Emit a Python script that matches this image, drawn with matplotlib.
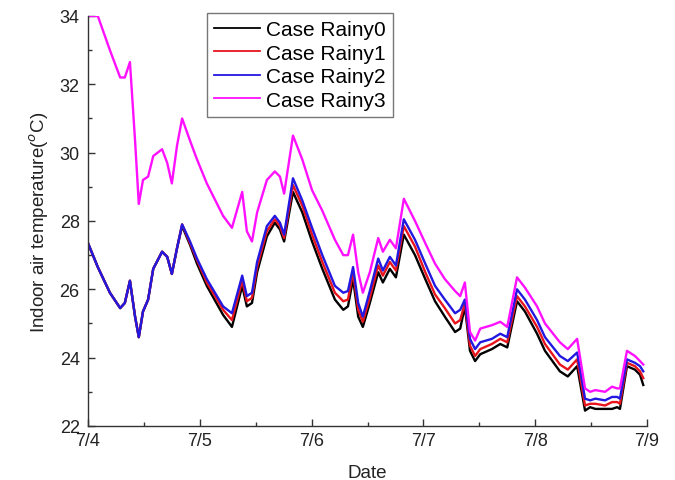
import matplotlib
matplotlib.use("Agg")
import matplotlib.pyplot as plt
from matplotlib.ticker import MultipleLocator

plt.rcParams['font.family'] = ['Liberation Sans', 'DejaVu Sans']

# hours since 7/4 00:00
hours = [0.0, 2.1, 4.7, 6.9, 7.9, 9.0, 10.1, 10.9, 11.8, 12.9, 14.0, 15.9, 17.0, 18.0,
         19.1, 20.2, 21.9, 23.4, 25.5, 29.0, 30.9, 33.1, 34.1, 35.2, 36.3, 38.4, 40.1,
         41.2, 42.1, 44.0, 46.0, 48.1, 50.3, 53.0, 54.8, 55.8, 56.9, 58.0, 59.0, 60.5,
         62.3, 63.3, 64.8, 66.1, 67.8, 70.2, 72.4, 74.5, 76.6, 78.8, 79.9, 80.9, 82.0,
         83.1, 84.2, 86.7, 88.5, 90.0, 92.1, 93.8, 96.4, 98.1, 101.3, 103.0, 105.0,
         106.7, 107.8, 108.9, 111.0, 112.5, 113.6, 114.2, 115.7, 117.4, 118.5, 119.2]

rainy0 = [27.35, 26.65, 25.9, 25.45, 25.6, 26.25, 25.2, 24.6, 25.35, 25.7, 26.6, 27.1,
          26.95, 26.45, 27.2, 27.85, 27.3, 26.75, 26.1, 25.25, 24.9, 26.1, 25.5, 25.6,
          26.5, 27.55, 27.95, 27.75, 27.4, 28.85, 28.25, 27.4, 26.6, 25.7, 25.4, 25.5,
          26.3, 25.2, 24.9, 25.6, 26.5, 26.2, 26.6, 26.35, 27.6, 27.0, 26.3, 25.65, 25.2,
          24.75, 24.85, 25.5, 24.2, 23.9, 24.1, 24.25, 24.4, 24.3, 25.65, 25.35, 24.7,
          24.2, 23.6, 23.45, 23.75, 22.45, 22.55, 22.5, 22.5, 22.5, 22.55, 22.5, 23.75,
          23.65, 23.5, 23.2]

rainy1 = [27.35, 26.65, 25.9, 25.45, 25.6, 26.25, 25.2, 24.6, 25.35, 25.7, 26.6, 27.1,
          26.95, 26.45, 27.2, 27.9, 27.35, 26.85, 26.2, 25.4, 25.1, 26.25, 25.65, 25.75,
          26.65, 27.7, 28.05, 27.85, 27.5, 29.05, 28.45, 27.6, 26.8, 25.9, 25.65, 25.7,
          26.5, 25.4, 25.05, 25.75, 26.7, 26.4, 26.8, 26.55, 27.85, 27.25, 26.5, 25.85,
          25.45, 25.0, 25.1, 25.6, 24.35, 24.05, 24.25, 24.4, 24.55, 24.45, 25.8, 25.5,
          24.9, 24.4, 23.8, 23.65, 23.95, 22.6, 22.65, 22.65, 22.6, 22.7, 22.7, 22.65,
          23.85, 23.75, 23.6, 23.4]

rainy2 = [27.35, 26.65, 25.9, 25.45, 25.6, 26.25, 25.2, 24.6, 25.35, 25.7, 26.6, 27.1,
          26.95, 26.45, 27.2, 27.9, 27.4, 26.9, 26.3, 25.5, 25.3, 26.4, 25.8, 25.9,
          26.8, 27.85, 28.15, 27.95, 27.6, 29.25, 28.6, 27.8, 27.0, 26.1, 25.9, 25.95,
          26.65, 25.6, 25.2, 25.95, 26.9, 26.55, 26.95, 26.7, 28.05, 27.45, 26.75, 26.1,
          25.7, 25.3, 25.4, 25.7, 24.55, 24.25, 24.45, 24.55, 24.7, 24.6, 26.0, 25.7,
          25.1, 24.6, 24.05, 23.9, 24.15, 22.8, 22.75, 22.8, 22.75, 22.85, 22.85, 22.8,
          23.95, 23.85, 23.75, 23.6]

rainy3 = [34.0, 34.0, 33.0, 32.2, 32.2, 32.65, 30.35, 28.5, 29.2, 29.3, 29.9, 30.1,
          29.7, 29.1, 30.2, 31.0, 30.35, 29.8, 29.1, 28.15, 27.8, 28.85, 27.7, 27.4,
          28.25, 29.2, 29.45, 29.3, 28.8, 30.5, 29.8, 28.9, 28.3, 27.45, 27.0, 27.0,
          27.6, 26.5, 25.9, 26.5, 27.5, 27.1, 27.45, 27.2, 28.65, 28.0, 27.35, 26.75,
          26.3, 25.95, 25.8, 26.2, 24.75, 24.5, 24.85, 24.95, 25.05, 24.9, 26.35, 26.05,
          25.5, 25.0, 24.45, 24.25, 24.55, 23.1, 23.0, 23.05, 23.0, 23.15, 23.1, 23.1,
          24.2, 24.05, 23.9, 23.8]

labels = ['Case Rainy0', 'Case Rainy1', 'Case Rainy2', 'Case Rainy3']
colors = ['black', '#e8141c', '#2218e0', '#ff10ff']
date_labels = ['7/4', '7/5', '7/6', '7/7', '7/8', '7/9']

days = [h / 24 for h in hours]

fig = plt.figure(figsize=(6.75, 4.81), dpi=100)
ax = fig.add_axes([0.1304, 0.1123, 0.8281, 0.8524])

for series, lab, col in zip([rainy0, rainy1, rainy2, rainy3], labels, colors):
    ax.plot(days, series, color=col, linewidth=1.7, label=lab)

ax.set_xlim(0, 5)
ax.set_ylim(22, 34)
ax.set_xticks(range(len(date_labels)))
ax.set_xticklabels(date_labels)
ax.xaxis.set_minor_locator(MultipleLocator(0.5))
ax.yaxis.set_major_locator(MultipleLocator(2))
ax.yaxis.set_minor_locator(MultipleLocator(1))

for side in ['top', 'right']:
    ax.spines[side].set_visible(False)
for side in ['left', 'bottom']:
    ax.spines[side].set_linewidth(1.0)
    ax.spines[side].set_color('#333333')

ax.tick_params(which='major', direction='in', length=5, width=1.0, labelsize=13,
               colors='#333333', labelcolor='#222222')
ax.tick_params(which='minor', direction='in', length=3, width=1.0, colors='#333333')
ax.tick_params(axis='y', pad=6)
ax.tick_params(axis='x', pad=4)

ax.set_xlabel('Date', fontsize=13.5, color='#222222', labelpad=11)
ax.set_ylabel('Indoor air temperature($^o$C)', fontsize=13.5, color='#222222', labelpad=6)

leg = ax.legend(loc='upper left', bbox_to_anchor=(0.213, 1.008), fontsize=15,
                frameon=True, fancybox=False, handlelength=2.2, handletextpad=0.3,
                borderpad=0.35, labelspacing=0.22, borderaxespad=0)
leg.get_frame().set_edgecolor('#555555')
leg.get_frame().set_linewidth(1.0)
for line in leg.get_lines():
    line.set_linewidth(1.3)

fig.savefig('out.png', dpi=100)
